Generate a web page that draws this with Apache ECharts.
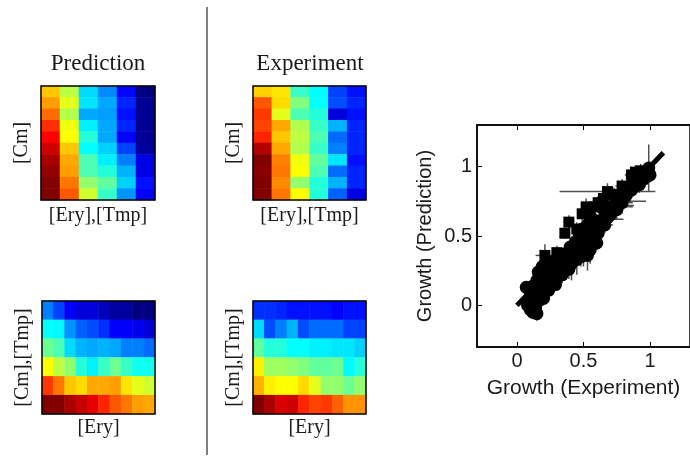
<!DOCTYPE html>
<html>
<head>
<meta charset="utf-8">
<script src="https://cdn.jsdelivr.net/npm/echarts@6/dist/echarts.min.js"></script>
<style>html,body{margin:0;padding:0;background:#fff}#c{width:690px;height:457px}</style>
</head>
<body>
<div id="c"></div>
<script>
// ---------- DATA ----------
// Heatmaps: rows listed top to bottom, values on a 0..1 jet scale
var predTop = [
  [0.68,0.56,0.34,0.26,0.13,0.00],
  [0.72,0.60,0.35,0.29,0.16,0.02],
  [0.77,0.55,0.29,0.28,0.14,0.02],
  [0.83,0.61,0.36,0.29,0.16,0.02],
  [0.875,0.625,0.41,0.29,0.125,0.02],
  [0.92,0.68,0.375,0.33,0.19,0.03],
  [0.96,0.71,0.45,0.36,0.25,0.10],
  [0.98,0.72,0.45,0.41,0.30,0.10],
  [1.00,0.76,0.52,0.47,0.33,0.14],
  [1.00,0.79,0.58,0.43,0.27,0.125]
];
var expTop = [
  [0.67,0.65,0.43,0.375,0.19,0.14],
  [0.79,0.66,0.50,0.38,0.20,0.16],
  [0.82,0.60,0.45,0.41,0.09,0.14],
  [0.81,0.71,0.55,0.43,0.30,0.16],
  [0.84,0.68,0.56,0.45,0.23,0.16],
  [0.95,0.71,0.55,0.43,0.25,0.16],
  [1.00,0.75,0.61,0.47,0.35,0.14],
  [0.99,0.76,0.625,0.45,0.23,0.16],
  [1.00,0.74,0.52,0.41,0.30,0.16],
  [1.00,0.76,0.625,0.41,0.22,0.10]
];
var predBottom = [
  [0.25,0.19,0.12,0.09,0.09,0.06,0.03,0.03,0.00,0.00],
  [0.38,0.37,0.27,0.22,0.20,0.17,0.125,0.12,0.11,0.09],
  [0.48,0.45,0.34,0.30,0.29,0.30,0.29,0.25,0.25,0.23],
  [0.625,0.56,0.52,0.41,0.36,0.43,0.48,0.43,0.39,0.39],
  [0.82,0.76,0.68,0.66,0.71,0.71,0.72,0.65,0.60,0.58],
  [1.00,1.00,0.96,0.93,0.90,0.84,0.79,0.76,0.72,0.71]
];
var expBottom = [
  [0.17,0.17,0.16,0.14,0.14,0.14,0.14,0.125,0.14,0.14],
  [0.34,0.20,0.25,0.30,0.20,0.23,0.23,0.23,0.19,0.19],
  [0.47,0.41,0.41,0.375,0.375,0.36,0.36,0.35,0.35,0.33],
  [0.64,0.53,0.53,0.52,0.50,0.47,0.47,0.48,0.37,0.41],
  [0.70,0.64,0.625,0.625,0.66,0.60,0.52,0.52,0.48,0.52],
  [1.00,0.96,0.91,0.92,0.84,0.81,0.82,0.78,0.73,0.73]
];

// Scatter: [experiment, prediction, xErr, yErr]
var circlePoints = [
  [0.12,-0.05,0.02,0.05],[0.10,-0.03,0.02,0.03],[0.14,-0.02,0.03,0.04],[0.13,0.01,0.02,0.03],
  [0.09,0.04,0.02,0.03],[0.16,0.03,0.03,0.04],[0.11,0.07,0.02,0.03],[0.07,0.13,0.02,0.03],
  [0.14,0.09,0.03,0.03],[0.18,0.08,0.03,0.05],[0.12,0.14,0.03,0.04],[0.17,0.15,0.02,0.04],
  [0.21,0.13,0.03,0.06],[0.19,0.20,0.03,0.04],[0.23,0.18,0.03,0.05],[0.16,0.24,0.03,0.04],
  [0.22,0.25,0.03,0.05],[0.26,0.22,0.03,0.06],[0.29,0.15,0.02,0.03],[0.28,0.28,0.03,0.05],
  [0.31,0.24,0.03,0.07],[0.33,0.31,0.04,0.05],[0.36,0.27,0.03,0.08],[0.38,0.34,0.03,0.06],
  [0.41,0.30,0.04,0.12],[0.43,0.38,0.03,0.06],[0.45,0.33,0.03,0.11],[0.47,0.42,0.04,0.06],
  [0.50,0.38,0.04,0.10],[0.52,0.45,0.04,0.06],[0.55,0.40,0.04,0.10],[0.44,0.46,0.03,0.05],
  [0.49,0.55,0.04,0.06],[0.54,0.52,0.04,0.06],[0.57,0.50,0.03,0.06],[0.60,0.45,0.03,0.05],
  [0.59,0.58,0.04,0.05],[0.62,0.61,0.06,0.05],[0.65,0.62,0.15,0.04],[0.67,0.67,0.05,0.06],
  [0.70,0.65,0.04,0.08],[0.72,0.71,0.15,0.07],[0.75,0.69,0.05,0.07],[0.77,0.75,0.20,0.05],
  [0.80,0.78,0.05,0.06],[0.83,0.82,0.04,0.05],[0.85,0.86,0.05,0.06],[0.88,0.88,0.04,0.05],
  [0.91,0.90,0.05,0.06],[0.94,0.93,0.04,0.05],[0.97,0.96,0.04,0.06],[0.99,0.99,0.03,0.17],
  [1.00,0.94,0.04,0.05],[0.56,0.63,0.04,0.05],[0.64,0.70,0.04,0.05],[0.40,0.42,0.03,0.05],
  [0.35,0.37,0.03,0.04],[0.25,0.30,0.03,0.04],
  [0.08,0.00,0.02,0.04],[0.15,-0.06,0.02,0.05],[0.10,0.10,0.02,0.03],[0.15,0.18,0.03,0.04],
  [0.20,0.05,0.03,0.05],[0.24,0.11,0.03,0.05],[0.19,0.28,0.02,0.04],[0.27,0.19,0.03,0.05],
  [0.30,0.20,0.04,0.06],[0.32,0.27,0.03,0.05],[0.34,0.22,0.03,0.06],[0.37,0.31,0.04,0.05],
  [0.39,0.26,0.03,0.07],[0.42,0.35,0.04,0.05],[0.46,0.39,0.03,0.06],[0.48,0.35,0.04,0.07],
  [0.51,0.42,0.04,0.05],[0.53,0.36,0.03,0.11],[0.56,0.46,0.04,0.06],[0.58,0.55,0.04,0.05],
  [0.61,0.52,0.03,0.06],[0.63,0.57,0.05,0.05],[0.66,0.58,0.06,0.06],[0.68,0.63,0.05,0.07],
  [0.71,0.68,0.06,0.05],[0.74,0.74,0.05,0.06],[0.76,0.72,0.12,0.05],[0.79,0.74,0.08,0.08],
  [0.82,0.79,0.05,0.05],[0.86,0.83,0.04,0.06],[0.89,0.86,0.05,0.05],[0.92,0.87,0.04,0.06],
  [0.95,0.91,0.04,0.05],[0.98,0.93,0.03,0.06],[0.53,0.58,0.03,0.05],[0.47,0.50,0.03,0.05]
];
var squarePoints = [
  [0.21,0.36,0.07,0.08],[0.36,0.52,0.03,0.04],[0.39,0.60,0.04,0.05],[0.49,0.66,0.03,0.05],
  [0.52,0.71,0.04,0.06],[0.55,0.67,0.03,0.04],[0.61,0.74,0.04,0.05],[0.65,0.77,0.05,0.09],
  [0.68,0.82,0.36,0.06],[0.73,0.80,0.06,0.05],[0.79,0.86,0.05,0.05],[0.86,0.94,0.05,0.06],
  [0.89,0.96,0.04,0.05],[0.93,0.97,0.03,0.05],[0.45,0.55,0.03,0.05],[0.30,0.38,0.04,0.05],
  [0.26,0.32,0.03,0.04],[0.16,0.22,0.03,0.04],[0.58,0.71,0.04,0.05],[0.13,0.12,0.02,0.03]
];
var fitLine = [[0,0],[1.1,1.1]];
var scatterTicks = [0, 0.5, 1];

// ---------- BUILD ----------
var jet = ['#000080','#0000ff','#0080ff','#00ffff','#80ff80','#ffff00','#ff8000','#ff0000','#800000'];
var serif = 'Liberation Serif';
var sans = 'Liberation Sans';

function toCells(m){
  var out=[];
  for (var r=0;r<m.length;r++) for (var c=0;c<m[r].length;c++) out.push([c,r,m[r][c]]);
  return out;
}
function idx(n){var a=[];for(var i=0;i<n;i++)a.push(String(i));return a;}

var hm = [
  {grid:{left:41,top:86,width:114,height:114}, data:predTop, xName:'[Ery],[Tmp]', yName:'[Cm]', xGap:6},
  {grid:{left:253,top:86,width:113,height:114}, data:expTop, xName:'[Ery],[Tmp]', yName:'[Cm]', xGap:6},
  {grid:{left:42,top:301,width:113,height:113}, data:predBottom, xName:'[Ery]', yName:'[Cm],[Tmp]', xGap:4},
  {grid:{left:253,top:301,width:113,height:113}, data:expBottom, xName:'[Ery]', yName:'[Cm],[Tmp]', xGap:4}
];

var grids=[], xAxes=[], yAxes=[], series=[];
hm.forEach(function(h,i){
  grids.push(Object.assign({show:true, borderColor:'#000', borderWidth:1.5, backgroundColor:'transparent', z:5}, h.grid));
  xAxes.push({type:'category', gridIndex:i, data:idx(h.data[0].length),
    axisLine:{show:false}, axisTick:{show:false}, axisLabel:{show:false}, splitLine:{show:false},
    name:h.xName, nameLocation:'middle', nameGap:h.xGap,
    nameTextStyle:{fontFamily:serif, fontSize:20, color:'#1a1a1a', verticalAlign:'top'}});
  yAxes.push({type:'category', gridIndex:i, inverse:true, data:idx(h.data.length),
    axisLine:{show:false}, axisTick:{show:false}, axisLabel:{show:false}, splitLine:{show:false},
    name:h.yName, nameLocation:'middle', nameGap:9, nameRotate:90,
    nameTextStyle:{fontFamily:serif, fontSize:20, color:'#1a1a1a'}});
  series.push({type:'heatmap', xAxisIndex:i, yAxisIndex:i, data:toCells(h.data), itemStyle:{borderWidth:0}, emphasis:{disabled:true}});
});

// scatter grid (index 4)
grids.push({left:477, top:125, width:222, height:222, show:true, borderColor:'#000', borderWidth:1.5, backgroundColor:'transparent', z:1});
xAxes.push({type:'value', gridIndex:4, min:-0.3, max:1.3, position:'bottom',
  axisLine:{show:true, onZero:false, lineStyle:{color:'#000', width:1.5}},
  axisTick:{show:true, inside:true, length:5, customValues:scatterTicks, lineStyle:{color:'#000'}},
  axisLabel:{show:true, customValues:scatterTicks, margin:4, fontFamily:sans, fontSize:20, color:'#1a1a1a'},
  splitLine:{show:false},
  name:'Growth (Experiment)', nameLocation:'middle', nameGap:31,
  nameTextStyle:{fontFamily:sans, fontSize:21, color:'#1a1a1a'}});
xAxes.push({type:'value', gridIndex:4, min:-0.3, max:1.3, position:'top',
  axisLine:{show:true, onZero:false, lineStyle:{color:'#000', width:1.5}},
  axisTick:{show:true, inside:true, length:5, customValues:scatterTicks, lineStyle:{color:'#000'}},
  axisLabel:{show:false}, splitLine:{show:false}});
yAxes.push({type:'value', gridIndex:4, min:-0.3, max:1.3,
  axisLine:{show:true, onZero:false, lineStyle:{color:'#000', width:1.5}},
  axisTick:{show:true, inside:true, length:5, customValues:scatterTicks, lineStyle:{color:'#000'}},
  axisLabel:{show:true, customValues:scatterTicks, margin:5, fontFamily:sans, fontSize:20, color:'#1a1a1a'},
  splitLine:{show:false},
  name:'Growth (Prediction)', nameLocation:'middle', nameGap:42, nameRotate:90,
  nameTextStyle:{fontFamily:sans, fontSize:20, color:'#1a1a1a'}});

function errRender(params, api){
  var x=api.value(0), y=api.value(1), xe=api.value(2), ye=api.value(3);
  var a=api.coord([x-xe,y]), b=api.coord([x+xe,y]);
  var c=api.coord([x,y-ye]), d=api.coord([x,y+ye]);
  var st={stroke:'#505050', lineWidth:1.5};
  return {type:'group', children:[
    {type:'line', shape:{x1:a[0],y1:a[1],x2:b[0],y2:b[1]}, style:st},
    {type:'line', shape:{x1:c[0],y1:c[1],x2:d[0],y2:d[1]}, style:st}
  ]};
}
var allPts = circlePoints.concat(squarePoints);
series.push({type:'custom', xAxisIndex:4, yAxisIndex:4, data:allPts, renderItem:errRender, z:2, silent:true});
series.push({type:'line', xAxisIndex:4, yAxisIndex:4, data:fitLine, symbol:'none', lineStyle:{color:'#000', width:5}, z:3, silent:true});
series.push({type:'scatter', xAxisIndex:4, yAxisIndex:4, data:circlePoints.map(function(p){return [p[0],p[1]];}),
  symbol:'circle', symbolSize:13, itemStyle:{color:'#000', opacity:1}, z:4, silent:true});
series.push({type:'scatter', xAxisIndex:4, yAxisIndex:4, data:squarePoints.map(function(p){return [p[0],p[1]];}),
  symbol:'rect', symbolSize:11, itemStyle:{color:'#000', opacity:1}, z:4, silent:true});

var chart = echarts.init(document.getElementById('c'), null, {renderer:'canvas'});
chart.setOption({
  animation:false,
  backgroundColor:'#fff',
  visualMap:{type:'continuous', show:false, min:0, max:1, seriesIndex:[0,1,2,3], inRange:{color:jet}},
  graphic:[
    {type:'line', shape:{x1:207, y1:7, x2:207, y2:455}, style:{stroke:'#555', lineWidth:1.5}},
    {type:'text', x:98, y:64, style:{text:'Prediction', font:'23px "Liberation Serif"', fill:'#1a1a1a', textAlign:'center', textVerticalAlign:'middle'}},
    {type:'text', x:310, y:64, style:{text:'Experiment', font:'23px "Liberation Serif"', fill:'#1a1a1a', textAlign:'center', textVerticalAlign:'middle'}}
  ],
  grid:grids, xAxis:xAxes, yAxis:yAxes, series:series
});
</script>
</body>
</html>
